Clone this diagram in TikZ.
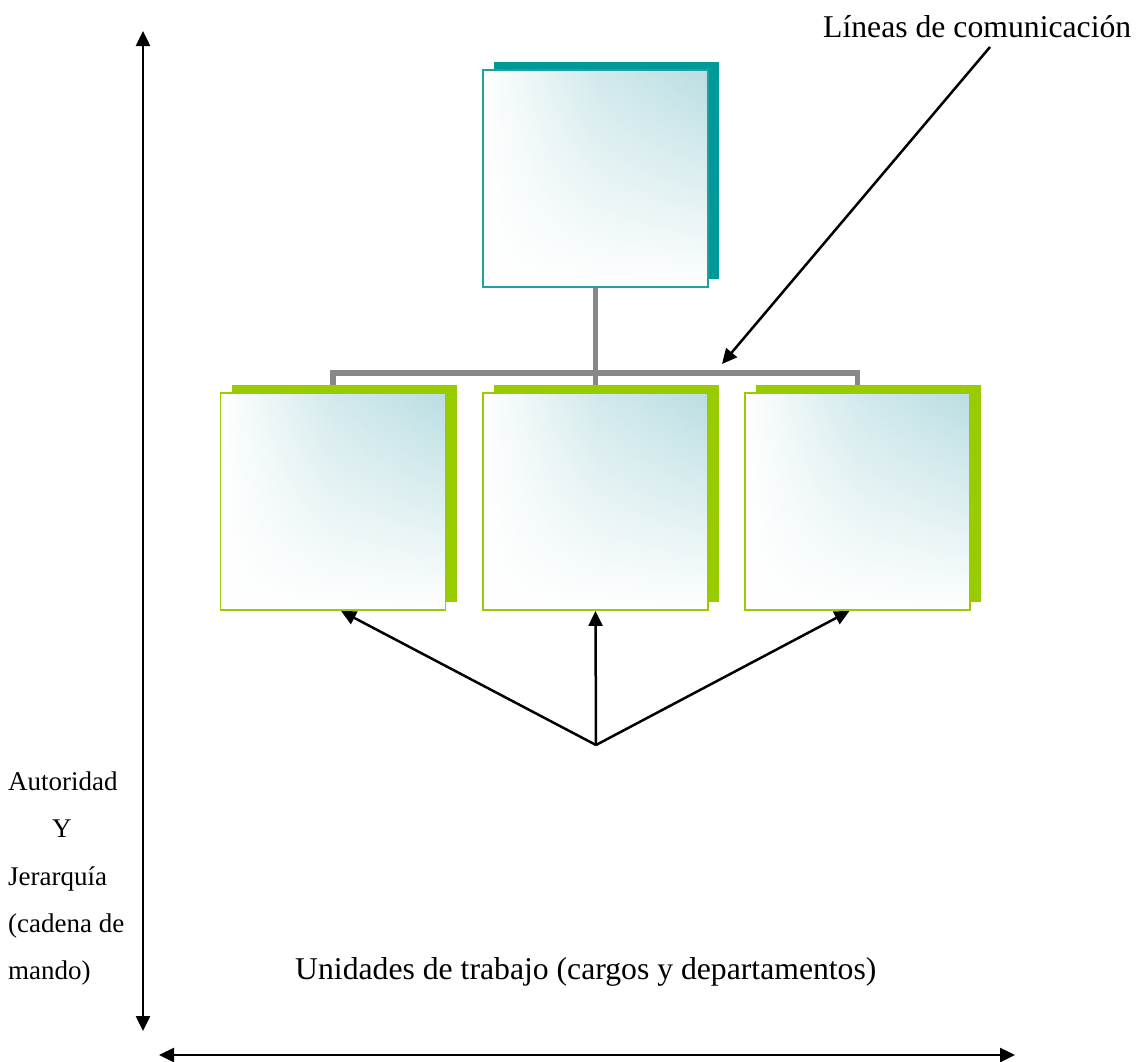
\documentclass[tikz,border=0pt]{standalone}
\usepackage{fontspec}
\setmainfont{Liberation Serif}
\usetikzlibrary{arrows.meta,shadows,fadings}
\pgfdeclarelayer{bg}
\pgfsetlayers{bg,main}

\definecolor{tealdark}{RGB}{0,153,153}
\definecolor{tealedge}{RGB}{32,160,160}
\definecolor{limegreen}{RGB}{153,204,0}
\definecolor{boxtint}{RGB}{186,222,226}
\definecolor{busgray}{RGB}{136,136,136}

% tint strongest along the top edge, gone towards the bottom
\tikzfading[name=topglow, top color=transparent!0,
  middle color=transparent!35, bottom color=transparent!100]

\tikzset{
  unitbox/.style={rectangle, minimum width=225pt, minimum height=217pt,
    inner sep=0pt, line width=1.8pt, fill=white,
    path picture={
      \shade[left color=white, right color=boxtint, middle color=boxtint!65,
             path fading=topglow]
        (path picture bounding box.south west) rectangle
        (path picture bounding box.north east);
    }},
  headbox/.style={unitbox, draw=tealedge,
    drop shadow={shadow xshift=11pt, shadow yshift=8pt, fill=tealdark, opacity=1}},
  deptbox/.style={unitbox, draw=limegreen,
    drop shadow={shadow xshift=11pt, shadow yshift=8pt, fill=limegreen, opacity=1}},
  bus/.style={draw=busgray, line width=5.5pt},
  pointer/.style={draw=black, line width=2.5pt, -{Triangle[length=15pt,width=14pt]}},
  axis/.style={draw=black, line width=2.5pt,
    {Triangle[length=15pt,width=14pt]}-{Triangle[length=15pt,width=14pt]}},
  bigtext/.style={inner sep=0pt, anchor=base west, font=\fontsize{31.7}{38}\selectfont},
  sidetext/.style={inner sep=0pt, anchor=base west, font=\fontsize{27}{32}\selectfont}
}

\begin{document}
\begin{tikzpicture}[x=1pt, y=-1pt]
  \useasboundingbox (0,0) rectangle (1138,1061);

  % chart boxes
  \node[headbox] (head) at (595.5,178.5) {};
  \node[deptbox] (d1) at (333,501.5) {};
  \node[deptbox] (d2) at (595.5,501.5) {};
  \node[deptbox] (d3) at (857.5,501.5) {};

  % organisational connectors behind the boxes
  \begin{pgfonlayer}{bg}
    \draw[bus] (head.south) -- ++(0,85) coordinate (busjoint);
    \draw[bus] (d1.north) |- (busjoint) -| (d3.north);
    \draw[bus] (busjoint) -- (d2.north);
  \end{pgfonlayer}

  % labels
  \node[bigtext] (comlabel) at (823,37) {Líneas de comunicación};
  \node[bigtext] (unitslabel) at (295,979) {Unidades de trabajo (cargos y departamentos)};
  \node[sidetext] (s1) at (8,790) {Autoridad};
  \node[sidetext] (s2) at (52,837) {Y};
  \node[sidetext] (s3) at (8,885) {Jerarquía};
  \node[sidetext] (s4) at (8,932) {(cadena de};
  \node[sidetext] (s5) at (8,979) {mando)};

  % communication pointer
  \coordinate (comstart) at (990,47);
  \coordinate (comtip) at (722,364);
  \draw[pointer] (comstart) -- (comtip);

  % work-unit pointers
  \coordinate (hub) at (596,745);
  \draw[pointer] (hub) -- ([xshift=8pt]d1.south);
  \draw[pointer] (hub) -- (d2.south);
  \draw[pointer] (hub) -- ([xshift=-8pt]d3.south);

  % axes
  \coordinate (vtop) at (143,31);
  \coordinate (vbot) at (143,1031);
  \coordinate (hleft) at (159,1055);
  \coordinate (hright) at (1015,1055);
  \draw[axis] (vtop) -- (vbot);
  \draw[axis] (hleft) -- (hright);
\end{tikzpicture}
\end{document}
